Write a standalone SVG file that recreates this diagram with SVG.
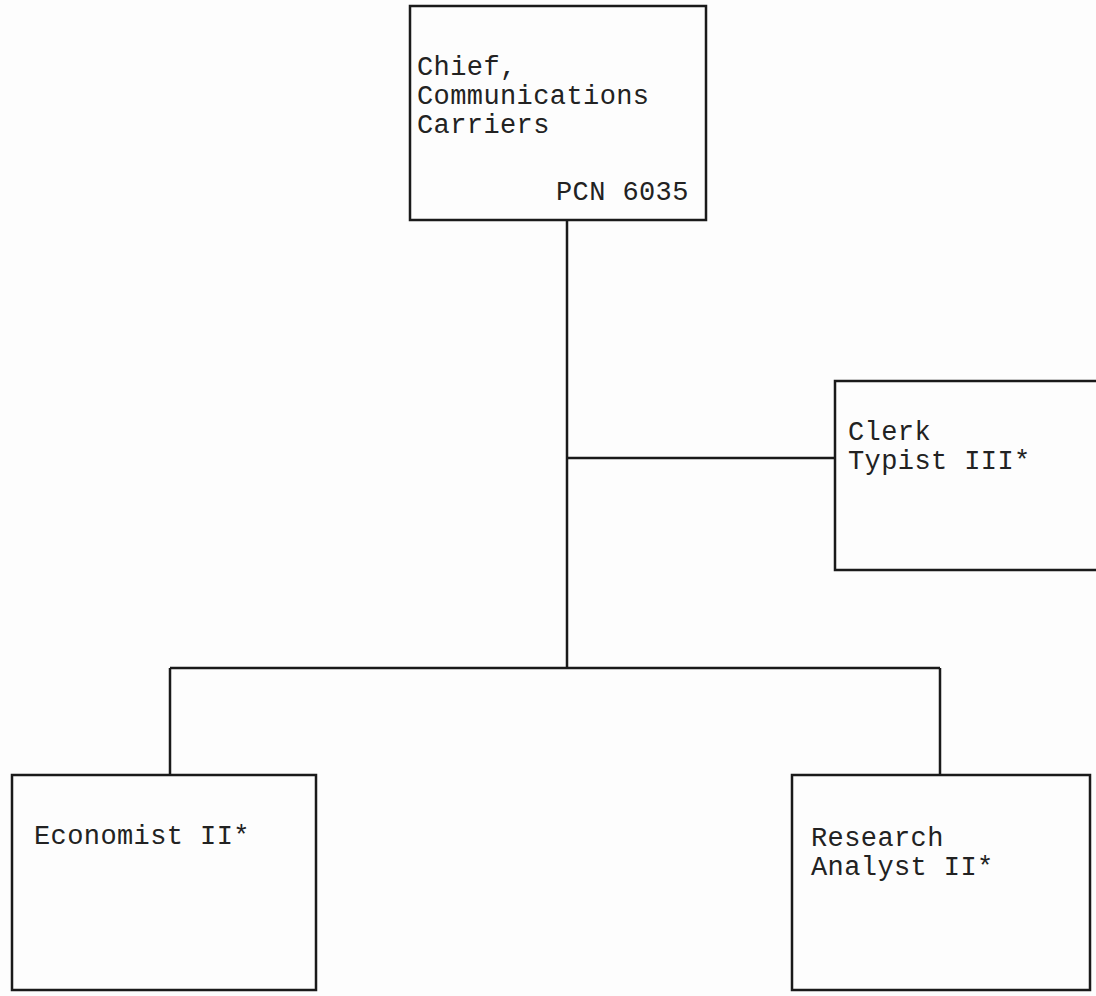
<svg xmlns="http://www.w3.org/2000/svg" width="1096" height="996" viewBox="0 0 1096 996">
<style>
.box{fill:none;stroke:#1a1a1a;stroke-width:2.5}
.ln{fill:none;stroke:#1a1a1a;stroke-width:2.5}
.t{font-family:"Liberation Mono","DejaVu Sans Mono",monospace;font-size:27px;fill:#222;letter-spacing:0.4px}
</style>
<rect width="1096" height="996" fill="#fdfdfd"/>
<g id="connectors">
<path class="ln" d="M567 220 V668"/>
<path class="ln" d="M567 458 H835"/>
<path class="ln" d="M170 668 H940"/>
<path class="ln" d="M170 668 V775"/>
<path class="ln" d="M940 668 V775"/>
</g>
<g id="chief">
<rect class="box" x="410" y="6" width="296" height="214"/>
<text class="t" x="417" y="75">Chief,</text>
<text class="t" x="417" y="104">Communications</text>
<text class="t" x="417" y="133">Carriers</text>
<text class="t" x="556" y="200">PCN 6035</text>
</g>
<g id="clerk">
<path class="box" d="M1096 381 H835 V570 H1096"/>
<text class="t" x="848" y="440">Clerk</text>
<text class="t" x="848" y="469">Typist III*</text>
</g>
<g id="economist">
<rect class="box" x="12" y="775" width="304" height="215"/>
<text class="t" x="34" y="844">Economist II*</text>
</g>
<g id="research">
<rect class="box" x="792" y="775" width="298" height="215"/>
<text class="t" x="811" y="846">Research</text>
<text class="t" x="811" y="875">Analyst II*</text>
</g>
</svg>
